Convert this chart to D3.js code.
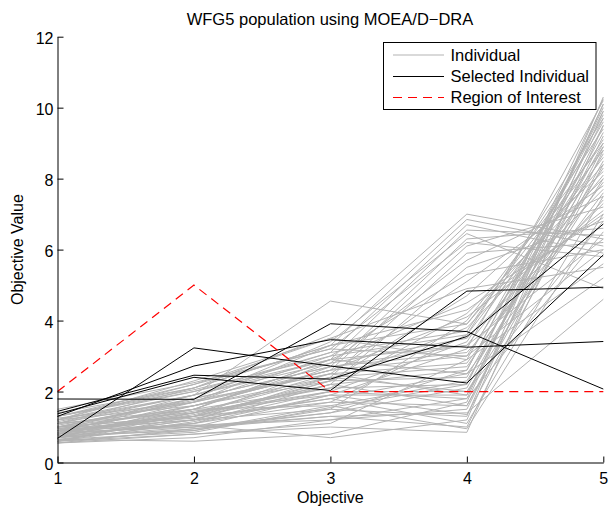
<!DOCTYPE html>
<html>
<head>
<meta charset="utf-8">
<script src="https://cdn.jsdelivr.net/npm/d3@7"></script>
<style>
  html, body { margin: 0; padding: 0; background: #fff; }
  svg { display: block; font-family: "Liberation Sans", Arial, Helvetica, sans-serif; }
</style>
</head>
<body>
<svg id="chart" width="609" height="510"></svg>
<script>
// ---- data ----
const objectives = [1, 2, 3, 4, 5];
const yTicks = [0, 2, 4, 6, 8, 10, 12];
const titleText = "WFG5 population using MOEA/D\u2212DRA";
const legendLabels = ["Individual", "Selected Individual", "Region of Interest"];

// gray population (objective values 1..5)
const individuals = [
  [0.9, 1.9, 4.55, 3.9, 8.8],
  [1.1, 2.1, 3.6, 7.0, 6.3],
  [0.8, 1.7, 3.3, 6.85, 6.1],
  [1.2, 2.0, 3.1, 6.7, 5.9],
  [0.7, 1.5, 2.9, 6.55, 6.4],
  [1.0, 1.8, 3.4, 6.45, 4.9],
  [0.6, 1.3, 2.7, 6.3, 6.6],
  [1.3, 2.2, 3.2, 6.2, 5.8],
  [0.9, 1.6, 2.6, 6.1, 7.2],
  [0.7, 1.2, 2.4, 5.9, 6.2],
  [1.1, 1.9, 2.8, 5.7, 7.5],
  [0.8, 1.1, 2.2, 5.5, 6.8],
  [1.0, 1.7, 3.0, 5.3, 6.0],
  [0.6, 1.4, 2.5, 5.1, 7.8],
  [1.2, 2.3, 3.5, 4.9, 5.5],
  [0.9, 1.3, 2.3, 4.7, 8.2],
  [0.8, 1.5, 2.9, 4.5, 6.9],
  [1.3, 2.1, 3.3, 4.3, 7.0],
  [0.6, 0.8, 1.0, 0.85, 9.5],
  [0.7, 0.95, 1.3, 1.0, 8.8],
  [0.8, 1.05, 0.7, 1.2, 9.9],
  [0.9, 1.2, 1.5, 1.3, 10.3],
  [0.55, 0.7, 1.2, 1.5, 9.2],
  [1.0, 1.3, 1.7, 1.6, 8.5],
  [0.65, 0.6, 0.8, 1.7, 10.1],
  [0.75, 1.1, 1.9, 1.9, 9.7],
  [1.1, 1.4, 2.0, 2.0, 8.0],
  [0.85, 1.0, 1.4, 2.1, 9.0],
  [0.95, 1.5, 2.1, 2.2, 10.0],
  [0.6, 0.9, 1.6, 2.3, 8.7],
  [1.2, 1.6, 2.3, 2.4, 9.3],
  [0.7, 1.2, 1.8, 2.5, 7.6],
  [1.0, 1.3, 2.2, 2.6, 9.8],
  [0.8, 1.4, 2.4, 2.7, 8.3],
  [1.25, 1.7, 2.5, 2.8, 7.9],
  [0.55, 0.8, 1.1, 2.9, 9.6],
  [0.9, 1.6, 2.6, 3.0, 8.9],
  [1.1, 1.8, 2.7, 3.1, 7.4],
  [0.7, 1.0, 1.9, 3.2, 10.2],
  [1.3, 2.0, 2.9, 3.3, 8.1],
  [0.85, 1.3, 2.0, 3.4, 9.1],
  [1.0, 1.5, 2.8, 3.5, 7.3],
  [0.65, 1.1, 1.7, 3.6, 8.6],
  [1.15, 1.9, 3.1, 3.7, 9.4],
  [0.9, 1.2, 2.3, 3.8, 7.7],
  [1.4, 2.1, 3.3, 3.9, 8.4],
  [0.75, 0.9, 1.5, 4.0, 9.0],
  [1.05, 1.7, 2.6, 4.1, 7.1],
  [0.8, 1.4, 2.1, 4.2, 8.0],
  [1.5, 2.25, 3.2, 3.0, 6.0],
  [0.95, 1.25, 1.8, 1.1, 7.5],
  [0.7, 1.6, 2.4, 2.0, 6.8],
  [1.2, 1.9, 2.9, 2.5, 5.2],
  [1.0, 1.0, 1.3, 1.4, 4.6],
  [0.6, 1.15, 2.0, 1.8, 6.5],
  [1.1, 1.5, 1.6, 0.95, 7.0],
  [0.85, 1.8, 2.7, 3.3, 6.3],
  [1.2, 2.2, 3.5, 2.9, 5.6],
  [0.55, 0.95, 1.4, 2.6, 9.9],
  [0.9, 1.05, 1.2, 1.8, 10.1],
  [0.75, 1.35, 2.2, 1.6, 8.9],
  [1.0, 1.75, 2.5, 1.9, 9.5],
  [0.65, 0.85, 1.55, 2.2, 10.25],
  [1.3, 2.05, 3.0, 3.6, 9.7],
  [0.8, 1.45, 1.9, 1.35, 8.4]
];

// selected individuals (black)
const selected = [
  [0.68, 3.23, 2.72, 2.24, 5.85],
  [1.79, 1.78, 3.91, 3.69, 2.07],
  [1.30, 2.72, 3.46, 3.25, 3.41],
  [1.44, 2.46, 2.35, 3.55, 6.72],
  [1.37, 2.40, 2.03, 4.83, 4.94]
];

// region of interest (red dashed)
const regionOfInterest = [2, 5, 2, 2, 2];

// ---- drawing ----
const svg = d3.select("#chart");
const x = d3.scaleLinear().domain([1, 5]).range([57.5, 603.3]);
const y = d3.scaleLinear().domain([0, 12]).range([462.5, 36.7]);

const line = d3.line()
  .x((d, i) => x(objectives[i]))
  .y(d => y(d));

const gray = "#b3b3b3";

svg.append("g").selectAll("path").data(individuals).join("path")
  .attr("d", line).attr("fill", "none").attr("stroke", gray).attr("stroke-width", 1);

svg.append("g").selectAll("path").data(selected).join("path")
  .attr("d", line).attr("fill", "none").attr("stroke", "#000").attr("stroke-width", 1);

svg.append("path").datum(regionOfInterest)
  .attr("d", line).attr("fill", "none").attr("stroke", "#ff0000")
  .attr("stroke-width", 1.2).attr("stroke-dasharray", "9,6");

// axes
const yAxis = d3.axisLeft(y).tickValues(yTicks).tickSizeInner(-6).tickSizeOuter(0).tickPadding(4);
const xAxis = d3.axisBottom(x).tickValues(objectives).tickSizeInner(-6).tickSizeOuter(0).tickPadding(10)
  .tickFormat(d3.format("d"));

const gy = svg.append("g").attr("transform", `translate(${x(1)},0)`).call(yAxis);
const gx = svg.append("g").attr("transform", `translate(0,${y(0)})`).call(xAxis);

[gx, gy].forEach(g => {
  g.select(".domain").attr("stroke", "#000");
  g.selectAll(".tick line").attr("stroke", "#000");
  g.selectAll("text").attr("fill", "#000").style("font-size", "16px")
    .style("font-family", '"Liberation Sans", Arial, sans-serif');
});
gy.selectAll("text").attr("dy", "0.42em");

// title and labels
svg.append("text").attr("x", 330).attr("y", 24.5).attr("text-anchor", "middle")
  .style("font-size", "16.5px").text(titleText);
svg.append("text").attr("x", (x(1) + x(5)) / 2).attr("y", 503).attr("text-anchor", "middle")
  .style("font-size", "16px").text("Objective");
svg.append("text").attr("transform", `translate(22.5,${(y(0) + y(12)) / 2}) rotate(-90)`)
  .attr("text-anchor", "middle").style("font-size", "16px").text("Objective Value");

// legend
const lg = svg.append("g");
lg.append("rect").attr("x", 383.5).attr("y", 42.5).attr("width", 212.5).attr("height", 67)
  .attr("fill", "#fff").attr("stroke", "#000").attr("stroke-width", 1);
const legendStyles = [
  { stroke: gray, dash: null },
  { stroke: "#000", dash: null },
  { stroke: "#ff0000", dash: "9,6" }
];
const rowY = [55, 76.5, 97.5];
legendLabels.forEach((lab, i) => {
  lg.append("line").attr("x1", 393).attr("x2", 444).attr("y1", rowY[i]).attr("y2", rowY[i])
    .attr("stroke", legendStyles[i].stroke).attr("stroke-width", i === 2 ? 1.2 : 1)
    .attr("stroke-dasharray", legendStyles[i].dash);
  lg.append("text").attr("x", 450.5).attr("y", rowY[i]).attr("dy", "0.36em")
    .style("font-size", "16.5px").text(lab);
});
</script>
</body>
</html>
